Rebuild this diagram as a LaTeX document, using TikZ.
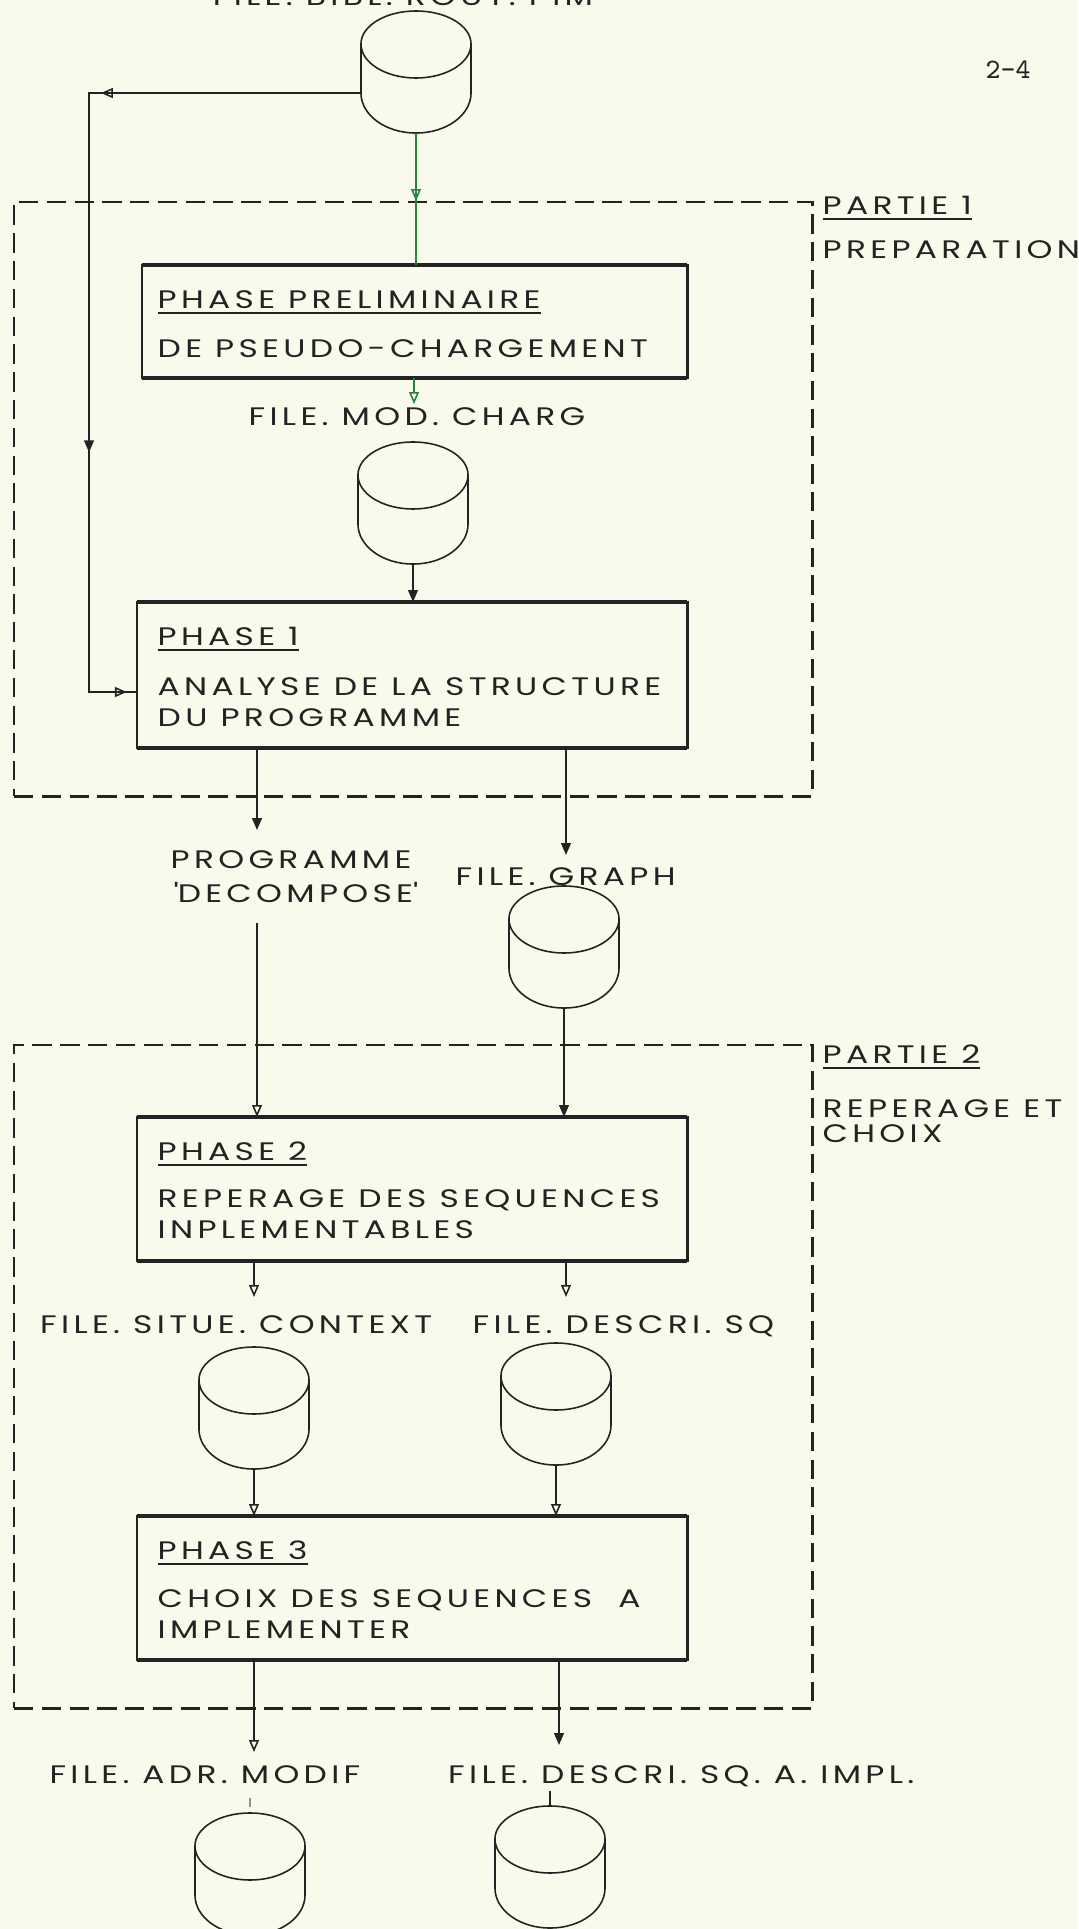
\documentclass[tikz,border=0pt]{standalone}
\usepackage{fontspec}
\setmainfont{Poppins}[FakeStretch=1.3, LetterSpace=17]
\usetikzlibrary{arrows.meta,decorations.markings}

\definecolor{ink}{RGB}{35,35,35}
\definecolor{paper}{RGB}{250,250,236}
\definecolor{greenink}{RGB}{40,130,60}

\newcommand\drawdisk[1]{%
  \draw[diskline] (#1.west) ++(0,0.28cm)
    arc[start angle=180,end angle=0,x radius=0.55cm,y radius=0.33cm]
    -- ++(0,-0.49cm)
    arc[start angle=0,end angle=-180,x radius=0.55cm,y radius=0.40cm] -- cycle;
  \draw[diskline] (#1.west) ++(0,0.28cm)
    arc[start angle=180,end angle=360,x radius=0.55cm,y radius=0.34cm];}

\tikzset{
  opentri/.tip={Triangle[open,length=3.4pt,width=2.8pt]},
  fulltri/.tip={Triangle[length=3.4pt,width=2.8pt]},
  conn/.style={line width=0.45pt, draw=ink},
  tipat/.style 2 args={postaction={decorate,
      decoration={markings, mark=at position #1 with {\arrow{#2}}}}},
  lbl/.style={inner sep=0pt, anchor=base west, text=ink,
      font=\fontsize{7.2}{8}\selectfont},
  phase/.style={draw=ink, line width=0.7pt, anchor=north west,
      inner sep=0pt, outer sep=0pt},
  partie/.style={draw=ink, line width=0.7pt, dash pattern=on 5.5pt off 2.4pt,
      anchor=north west, inner sep=0pt, outer sep=0pt},
  disk/.style={minimum width=1.1cm, minimum height=1.22cm, inner sep=0pt, outer sep=0pt},
  diskline/.style={line width=0.45pt, draw=ink}
}

\begin{document}
\begin{tikzpicture}[x=0.01cm,y=-0.01cm]
\useasboundingbox (0,0) rectangle (1078,1929);
\fill[paper] (0,0) rectangle (1078,1929);

% the two parts
\node[partie, minimum width=7.98cm, minimum height=5.94cm] (part1) at (14,202) {};
\node[partie, minimum width=7.98cm, minimum height=6.63cm] (part2) at (14,1045) {};
\node[lbl] (part1-a) at (822,214) {\underline{PARTIE 1}};
\node[lbl] (part1-b) at (822,258) {PREPARATION};
\node[lbl] (part2-a) at (822,1063) {\underline{PARTIE 2}};
\node[lbl] (part2-b) at (822,1117) {REPERAGE ET};
\node[lbl] (part2-c) at (822,1142) {CHOIX};
\node[lbl, font=\ttfamily\fontsize{8}{9}\selectfont] (pageno) at (985,78) {2-4};

% phases
\node[phase, minimum width=5.45cm, minimum height=1.13cm] (prelim) at (142,265) {};
\node[phase, minimum width=5.5cm, minimum height=1.46cm] (phase1) at (137,602) {};
\node[phase, minimum width=5.5cm, minimum height=1.44cm] (phase2) at (137,1117) {};
\node[phase, minimum width=5.5cm, minimum height=1.44cm] (phase3) at (137,1516) {};
\foreach \b in {prelim,phase1,phase2,phase3} {
  \draw[ink, line width=1.1pt] (\b.north west) -- (\b.north east);
  \draw[ink, line width=1.1pt] (\b.south west) -- (\b.south east);
}

\node[lbl] (prelim-a) at (157,308) {\underline{PHASE PRELIMINAIRE}};
\node[lbl] (prelim-b) at (157,357) {DE PSEUDO-CHARGEMENT};
\node[lbl] (phase1-a) at (157,645) {\underline{PHASE 1}};
\node[lbl] (phase1-b) at (157,695) {ANALYSE DE LA STRUCTURE};
\node[lbl] (phase1-c) at (157,726) {DU PROGRAMME};
\node[lbl] (phase2-a) at (157,1160) {\underline{PHASE 2}};
\node[lbl] (phase2-b) at (157,1207) {REPERAGE DES SEQUENCES};
\node[lbl] (phase2-c) at (157,1238) {INPLEMENTABLES};
\node[lbl] (phase3-a) at (157,1559) {\underline{PHASE 3}};
\node[lbl] (phase3-b) at (157,1607) {CHOIX DES SEQUENCES\ \ A};
\node[lbl] (phase3-c) at (157,1638) {IMPLEMENTER};

% files
\node[disk] (bibl) at (416,72) {};
\node[disk] (modch) at (413,503) {};
\node[disk] (graph) at (564,947) {};
\node[disk] (situe) at (254,1408) {};
\node[disk] (descri) at (556,1404) {};
\node[disk] (adr) at (250,1874) {};
\node[disk] (descriA) at (550,1867) {};
\foreach \d in {bibl,modch,graph,situe,descri,adr,descriA} {\drawdisk{\d}}

\node[lbl, anchor=base] (bibl-lbl) at (403,5) {FILE. BIBL. ROUT. PIM};
\node[lbl] (modch-lbl) at (248,425) {FILE. MOD. CHARG};
\node[lbl] (prog-a) at (170,868) {PROGRAMME};
\node[lbl] (prog-b) at (173,902) {\textquotesingle DECOMPOSE\textquotesingle};
\node[lbl] (graph-lbl) at (455,885) {FILE. GRAPH};
\node[lbl, anchor=base east] (situe-lbl) at (433,1333) {FILE. SITUE. CONTEXT};
\node[lbl] (descri-lbl) at (472,1333) {FILE. DESCRI. SQ};
\node[lbl, anchor=base east] (adr-lbl) at (361,1783) {FILE. ADR. MODIF};
\node[lbl, inner sep=1pt] (descriA-lbl) at (444,1783) {FILE. DESCRI. SQ. A. IMPL.};

% connectors
\coordinate (fbtop) at (89,93);
\coordinate (fbbot) at (89,692);
\draw[conn, tipat={0.283}{opentri}, tipat={0.687}{fulltri}, tipat={0.989}{opentri}]
  (bibl.west |- fbtop) -- (fbtop) -- (fbbot) -- (phase1.west |- fbbot);
\draw[conn, draw=greenink, tipat={0.515}{opentri}] (bibl.south) -- (bibl.south |- prelim.north);
\coordinate (modtip) at (414,404);
\draw[conn, draw=greenink, -{opentri}] (prelim.south -| modtip) -- (modtip);
\draw[conn, -{fulltri}] (modch.south) -- (modch.south |- phase1.north);
\coordinate (progtip) at (257,830);
\draw[conn, -{fulltri}] (phase1.south -| progtip) -- (progtip);
\coordinate (graphtip) at (566,855);
\draw[conn, -{fulltri}] (phase1.south -| graphtip) -- (graphtip);
\coordinate (progbot) at (257,923);
\draw[conn, -{opentri}] (progbot) -- (progbot |- phase2.north);
\draw[conn, -{fulltri}] (graph.south) -- (graph.south |- phase2.north);
\coordinate (situetip) at (254,1297);
\draw[conn, -{opentri}] (phase2.south -| situetip) -- (situetip);
\coordinate (descritip) at (566,1297);
\draw[conn, -{opentri}] (phase2.south -| descritip) -- (descritip);
\draw[conn, -{opentri}] (situe.south) -- (situe.south |- phase3.north);
\draw[conn, -{opentri}] (descri.south) -- (descri.south |- phase3.north);
\coordinate (adrtip) at (254,1752);
\draw[conn, -{opentri}] (phase3.south -| adrtip) -- (adrtip);
\coordinate (dAtip) at (559,1745);
\draw[conn, -{fulltri}] (phase3.south -| dAtip) -- (dAtip);
\draw[conn] (descriA.north) -- (descriA.north |- descriA-lbl.south);
\draw[conn, draw=ink!50] (adr.north) ++(0,-6) -- ++(0,-9);
\end{tikzpicture}
\end{document}
